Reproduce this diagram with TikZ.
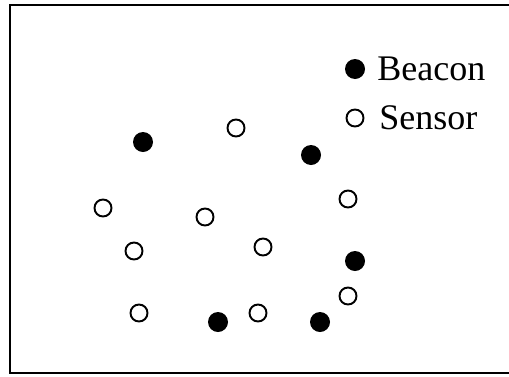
\documentclass[tikz,border=0pt]{standalone}
\usepackage{fontspec}
\setmainfont{Liberation Serif}
\usepackage{tikz}
\usetikzlibrary{positioning}

\begin{document}
\begin{tikzpicture}[
    x=0.02cm, y=-0.02cm,
    beacon/.style={circle, fill=black, inner sep=0pt, minimum size=0.4cm},
    sensor/.style={circle, draw=black, line width=1.1pt, fill=white, inner sep=0pt, minimum size=0.34cm},
    legend/.style={font=\fontsize{20.5}{24}\selectfont, anchor=base west, inner sep=0pt}
]
\useasboundingbox (0,0) rectangle (509,376);
\draw[line width=1.2pt] (10,5) rectangle (530,373);

% beacons
\node[beacon] (b1) at (143,142) {};
\node[beacon] (b2) at (311,155) {};
\node[beacon] (b3) at (355,261) {};
\node[beacon] (b4) at (218,322) {};
\node[beacon] (b5) at (320,322) {};

% sensors
\node[sensor] (s1) at (236,128) {};
\node[sensor] (s2) at (103,208) {};
\node[sensor] (s3) at (205,217) {};
\node[sensor] (s4) at (348,199) {};
\node[sensor] (s5) at (134,251) {};
\node[sensor] (s6) at (263,247) {};
\node[sensor] (s7) at (348,296) {};
\node[sensor] (s8) at (139,313) {};
\node[sensor] (s9) at (258,313) {};

% legend
\node[beacon] (legB) at (355,69) {};
\node[legend] (legBtext) at (377,80) {Beacon};
\node[sensor] (legS) at (355,118) {};
\node[legend] (legStext) at (379,129) {Sensor};
\end{tikzpicture}
\end{document}
